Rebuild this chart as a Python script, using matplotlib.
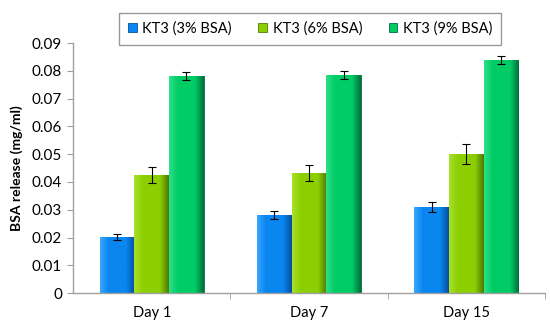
import numpy as np
import matplotlib.pyplot as plt
from matplotlib.colors import LinearSegmentedColormap

plt.rcParams['font.family'] = ['Lato', 'DejaVu Sans']

days = ['Day 1', 'Day 7', 'Day 15']
series = ['KT3 (3% BSA)', 'KT3 (6% BSA)', 'KT3 (9% BSA)']
vals_3 = [0.0202, 0.0282, 0.0311]
vals_6 = [0.0425, 0.0432, 0.0500]
vals_9 = [0.0781, 0.0785, 0.0838]
err_3 = [0.0010, 0.0015, 0.0018]
err_6 = [0.0030, 0.0030, 0.0035]
err_9 = [0.0015, 0.0015, 0.0015]

# light, base, dark for each series
shades = [('#3aa6ff', '#0a86f0', '#0650a0'),
          ('#a8e02a', '#8ccf00', '#4f7a00'),
          ('#2ee088', '#00cc66', '#00703a')]

fig, ax = plt.subplots(figsize=(5.5, 3.26), dpi=100)
fig.subplots_adjust(left=0.133, right=0.991, bottom=0.101, top=0.868)

x = np.arange(len(days))
w = 0.22
allvals = [vals_3, vals_6, vals_9]
allerr = [err_3, err_6, err_9]

grad = np.linspace(0, 1, 64).reshape(1, -1)
for i, (v, e, sh) in enumerate(zip(allvals, allerr, shades)):
    pos = x + (i - 1) * w
    bars = ax.bar(pos, v, w, color=sh[1], edgecolor=sh[2], linewidth=0.6,
                  label=series[i], zorder=2)
    cmap = LinearSegmentedColormap.from_list('c%d' % i,
                                             [sh[0], sh[1], sh[1], sh[1], sh[2]])
    for b in bars:
        bx, by = b.get_x(), b.get_y()
        bw, bh = b.get_width(), b.get_height()
        im = ax.imshow(grad, cmap=cmap, aspect='auto', zorder=2.5,
                       extent=[bx, bx + bw, by, by + bh])
        im.set_clip_path(b)
    ax.errorbar(pos, v, yerr=e, fmt='none', ecolor='black', elinewidth=0.8,
                capsize=3, capthick=0.8, zorder=3)

ax.set_xlim(-0.5, 2.5)
ax.set_ylim(0, 0.09)
ax.set_yticks(np.arange(0, 0.0901, 0.01))
ax.set_yticklabels(['0'] + ['%.2f' % t for t in np.arange(0.01, 0.0901, 0.01)])
ax.set_xticks(x)
ax.set_xticklabels(days)
ax.set_xticks([0.5, 1.5, 2.5], minor=True)
ax.tick_params(axis='x', which='major', length=0, pad=9, labelsize=10.5)
ax.tick_params(axis='x', which='minor', length=4, color='#a0a0a0', direction='out')
ax.tick_params(axis='y', length=4, color='#a0a0a0', labelsize=11, pad=4)
ax.set_ylabel('BSA release (mg/ml)', fontsize=10, fontweight='bold', labelpad=6)

for s in ['top', 'right']:
    ax.spines[s].set_visible(False)
for s in ['left', 'bottom']:
    ax.spines[s].set_color('#a0a0a0')
    ax.spines[s].set_linewidth(1.0)

handles, labels = ax.get_legend_handles_labels()
leg = fig.legend(handles, labels, loc='center', bbox_to_anchor=(0.564, 0.912),
                 ncol=3, fontsize=10.5, frameon=True, fancybox=False,
                 handlelength=0.6, handleheight=0.6, handletextpad=0.4,
                 columnspacing=1.8, borderpad=0.6)
leg.get_frame().set_edgecolor('#808080')
leg.get_frame().set_linewidth(1.0)

fig.savefig('out.png', dpi=100)
